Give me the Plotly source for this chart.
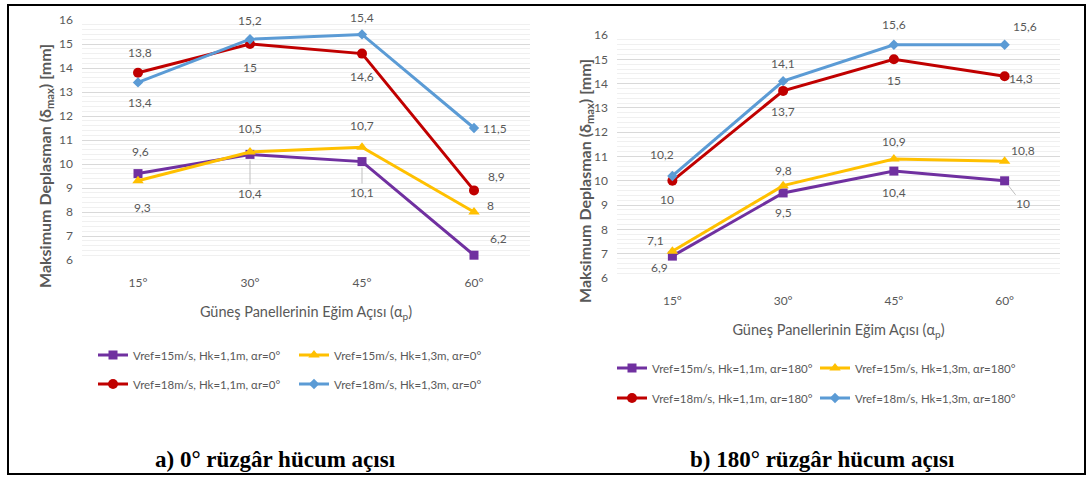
import plotly.graph_objects as go

# ---------------- data ----------------
angles = ["15°", "30°", "45°", "60°"]

# a) 0° wind attack angle
a_v15_h11 = [9.6, 10.4, 10.1, 6.2]
a_v15_h13 = [9.3, 10.5, 10.7, 8.0]
a_v18_h11 = [13.8, 15.0, 14.6, 8.9]
a_v18_h13 = [13.4, 15.2, 15.4, 11.5]

# b) 180° wind attack angle
b_v15_h11 = [6.9, 9.5, 10.4, 10.0]
b_v15_h13 = [7.1, 9.8, 10.9, 10.8]
b_v18_h11 = [10.0, 13.7, 15.0, 14.3]
b_v18_h13 = [10.2, 14.1, 15.6, 15.6]

names_a = ["Vref=15m/s, Hk=1,1m, αr=0°", "Vref=15m/s, Hk=1,3m, αr=0°",
           "Vref=18m/s, Hk=1,1m, αr=0°", "Vref=18m/s, Hk=1,3m, αr=0°"]
names_b = ["Vref=15m/s, Hk=1,1m, αr=180°", "Vref=15m/s, Hk=1,3m, αr=180°",
           "Vref=18m/s, Hk=1,1m, αr=180°", "Vref=18m/s, Hk=1,3m, αr=180°"]

yticks = [6, 7, 8, 9, 10, 11, 12, 13, 14, 15, 16]

x_title = "Güneş Panellerinin Eğim Açısı (α<sub>p</sub>)"
y_title = "<b>Maksimum Deplasman (δ<sub>max</sub>) [mm]</b>"
cap_a = "<b>a) 0° rüzgâr hücum açısı</b>"
cap_b = "<b>b) 180° rüzgâr hücum açısı</b>"

# ---------------- styles ----------------
colors = ["#7030A0", "#FFC000", "#C00000", "#5B9BD5"]
symbols = ["square", "triangle-up", "circle", "diamond"]
msizes = [9, 10, 10, 8]
GRAY = "#595959"
FONT = "Lato"

# label offsets in pixels (dx, dy-up, leader-line flag) per series / point
off_a = [
    [(2, 22, 0), (0, -39, 1), (0, -31, 1), (24, 17, 0)],
    [(4, -27, 0), (0, 24, 0), (0, 22, 0), (16, 7, 0)],
    [(2, 20, 0), (0, -23, 0), (0, -23, 0), (22, 14, 0)],
    [(2, -20, 0), (0, 19, 0), (0, 17, 0), (21, 0, 0)],
]
off_b = [
    [(-13, -11, 0), (0, -20, 0), (0, -21, 0), (18, -23, 1)],
    [(-17, 11, 0), (0, 15, 0), (0, 17, 0), (18, 11, 0)],
    [(-5, -19, 0), (0, -21, 0), (0, -21, 0), (16, -2, 0)],
    [(-10, 21, 0), (0, 18, 0), (0, 20, 0), (20, 18, 0)],
]

fig = go.Figure()

series_a = [a_v15_h11, a_v15_h13, a_v18_h11, a_v18_h13]
series_b = [b_v15_h11, b_v15_h13, b_v18_h11, b_v18_h13]
legends_a = ["legend", "legend", "legend2", "legend2"]
legends_b = ["legend3", "legend3", "legend4", "legend4"]

annotations = []


def fmt(v):
    return ("%g" % v).replace(".", ",")


for series, names, legs, offs, xa, ya in [
        (series_a, names_a, legends_a, off_a, "x", "y"),
        (series_b, names_b, legends_b, off_b, "x2", "y2")]:
    for i, vals in enumerate(series):
        fig.add_trace(go.Scatter(
            x=angles, y=vals, mode="lines+markers", name=names[i],
            xaxis=xa, yaxis=ya, legend=legs[i],
            line=dict(color=colors[i], width=3),
            marker=dict(symbol=symbols[i], size=msizes[i], color=colors[i]),
            cliponaxis=False,
        ))
        for j, v in enumerate(vals):
            dx, dy, lead = offs[i][j]
            a = dict(x=angles[j], y=v, xref=xa, yref=ya, text=fmt(v),
                     font=dict(family=FONT, size=12, color=GRAY))
            if lead:
                a.update(showarrow=True, arrowhead=0, arrowwidth=1,
                         arrowcolor="#bfbfbf", ax=dx, ay=-dy, standoff=6)
            else:
                a.update(showarrow=False, xshift=dx, yshift=dy)
            annotations.append(a)

W, H = 1091, 479

axis_common = dict(
    showline=False, zeroline=False, ticks="",
    tickfont=dict(family=FONT, size=12, color=GRAY),
)
xaxis_common = dict(axis_common, range=[-0.5, 3.5], showgrid=False,
                    ticklabelstandoff=14)
yaxis_common = dict(
    axis_common, range=[6, 16], tickvals=yticks, gridcolor="#d9d9d9",
    gridwidth=1, ticklabelstandoff=8,
    minor=dict(dtick=0.2, showgrid=True, gridcolor="#f0f0f0", gridwidth=1),
)
xt_font = dict(family=FONT, size=14.5, color=GRAY)

fig.update_layout(
    width=W, height=H,
    margin=dict(l=0, r=0, t=0, b=0, autoexpand=False),
    paper_bgcolor="white", plot_bgcolor="white",
    font=dict(family=FONT, color=GRAY),
    showlegend=True,
    xaxis=dict(xaxis_common, domain=[82 / W, 530 / W], anchor="y",
               title=dict(text=x_title, font=xt_font, standoff=17)),
    yaxis=dict(yaxis_common, domain=[1 - 260 / H, 1 - 20 / H], anchor="x"),
    xaxis2=dict(xaxis_common, domain=[617 / W, 1060 / W], anchor="y2",
                title=dict(text=x_title, font=xt_font, standoff=17)),
    yaxis2=dict(yaxis_common, domain=[1 - 278 / H, 1 - 35 / H], anchor="x2"),
)

leg_common = dict(orientation="h", xanchor="left", yanchor="middle",
                  font=dict(family=FONT, size=11.5, color=GRAY),
                  bgcolor="rgba(0,0,0,0)", entrywidth=156, entrywidthmode="pixels",
                  itemwidth=30, tracegroupgap=0)
fig.update_layout(
    legend=dict(leg_common, x=93 / W, y=1 - 355 / H),
    legend2=dict(leg_common, x=93 / W, y=1 - 384 / H),
    legend3=dict(leg_common, x=612 / W, y=1 - 368 / H, entrywidth=158),
    legend4=dict(leg_common, x=612 / W, y=1 - 398 / H, entrywidth=158),
)

# y-axis titles
yt_font = dict(family=FONT, size=16, color=GRAY)
for xp, yp in [(45, 166), (585, 181)]:
    annotations.append(dict(x=xp / W, y=1 - yp / H, xref="paper", yref="paper",
                            xanchor="center", yanchor="middle",
                            text=y_title, textangle=-90, showarrow=False,
                            font=yt_font))

# captions
cap_font = dict(family="Liberation Serif", size=23, color="black")
for xp, txt in [(275, cap_a), (822, cap_b)]:
    annotations.append(dict(x=xp / W, y=1 - 459 / H, xref="paper", yref="paper",
                            xanchor="center", yanchor="middle",
                            text=txt, showarrow=False, font=cap_font))

fig.update_layout(annotations=annotations)

# outer frame
fig.add_shape(type="rect", xref="paper", yref="paper",
              x0=8 / W, x1=1085 / W, y0=1 - 474 / H, y1=1 - 5 / H,
              line=dict(color="black", width=2))

fig.write_html("out.html", config={"displayModeBar": False},
               post_script="document.body.style.margin='0px';document.body.style.overflow='hidden';")
